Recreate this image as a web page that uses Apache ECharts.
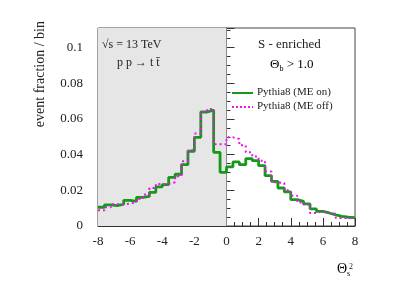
<!DOCTYPE html>
<html><head><meta charset="utf-8">
<script src="https://cdn.jsdelivr.net/npm/echarts@6/dist/echarts.min.js"></script>
<style>html,body{margin:0;padding:0;background:#fff}#c{width:395px;height:284px}</style>
</head><body><div id="c"></div>
<script>
// bin layout: 40 bins of width 0.4 on [-8, 8]
const xMin = -8, xMax = 8, binWidth = 0.4;
const binLow = Array.from({length: 40}, (_, i) => +(xMin + binWidth * i).toFixed(2));
// Pythia8 (ME on)
const meOn = [0.0105,0.0118,0.0114,0.0122,0.0144,0.0138,0.0161,0.0166,0.0189,0.0219,
              0.0232,0.0273,0.0290,0.0344,0.0419,0.0497,0.0639,0.0650,0.0413,0.0301,
              0.0331,0.0359,0.0344,0.0378,0.0366,0.0338,0.0282,0.0250,0.0213,0.0191,
              0.0148,0.0138,0.0124,0.0096,0.0082,0.0073,0.0062,0.0054,0.0049,0.0047];
// Pythia8 (ME off)
const meOff = [0.0088,0.0105,0.0122,0.0122,0.0125,0.0133,0.0152,0.0176,0.0213,0.0236,
               0.0236,0.0245,0.0279,0.0363,0.0424,0.0518,0.0639,0.0656,0.0458,0.0458,
               0.0497,0.0488,0.0452,0.0413,0.0390,0.0366,0.0306,0.0245,0.0241,0.0200,
               0.0170,0.0132,0.0120,0.0073,0.0082,0.0073,0.0068,0.0045,0.0045,0.0040];
const yTicks = [0, 0.02, 0.04, 0.06, 0.08, 0.1];
const xTicks = [-8, -6, -4, -2, 0, 2, 4, 6, 8];
const seriesNames = ['Pythia8 (ME on)', 'Pythia8 (ME off)'];
const GREEN = '#16991a', MAGENTA = '#ee11ee';

function steps(vals) {
  const pts = binLow.map((x, i) => [x, vals[i]]);
  pts.push([xMax, vals[vals.length - 1]]);
  return pts;
}
const FONT = 'Liberation Serif';
const chart = echarts.init(document.getElementById('c'), null, {renderer: 'canvas'});
chart.setOption({
  animation: false,
  backgroundColor: '#fff',
  grid: {left: 98, right: 40, top: 28, bottom: 58, show: true, borderColor: '#444', borderWidth: 1, backgroundColor: 'transparent'},
  xAxis: {
    type: 'value', min: xMin, max: xMax, interval: 2,
    axisLine: {lineStyle: {color: '#333', width: 1}},
    axisTick: {inside: true, length: 8, lineStyle: {color: '#333'}},
    minorTick: {show: true, splitNumber: 4, length: 4, lineStyle: {color: '#333'}},
    splitLine: {show: false},
    axisLabel: {fontFamily: FONT, fontSize: 13, color: '#222', margin: 9,
      formatter: v => xTicks.includes(v) ? String(v) : ''}
  },
  yAxis: {
    type: 'value', min: 0, max: 0.111, interval: 0.02,
    axisLine: {show: true, lineStyle: {color: '#333', width: 1}},
    axisTick: {show: true, inside: true, length: 8, lineStyle: {color: '#333'}},
    minorTick: {show: true, splitNumber: 4, length: 4, lineStyle: {color: '#333'}},
    splitLine: {show: false},
    axisLabel: {fontFamily: FONT, fontSize: 13, color: '#222', margin: 15, showMaxLabel: false,
      formatter: v => { const t = yTicks.find(a => Math.abs(a - v) < 1e-9); return t === undefined ? '' : String(t); }}
  },
  series: [
    {
      type: 'line', name: 'bg', data: [], silent: true, z: 0,
      markArea: {silent: true, itemStyle: {color: '#e6e6e6'}, data: [[{xAxis: xMin}, {xAxis: 0}]]}
    },
    {
      type: 'line', name: seriesNames[1], data: steps(meOff), step: 'end', symbol: 'none', z: 3,
      lineStyle: {color: MAGENTA, width: 2, type: [2, 3]}
    },
    {
      type: 'line', name: seriesNames[0], data: steps(meOn), step: 'end', symbol: 'none', z: 2,
      lineStyle: {color: GREEN, width: 2.8}
    }
  ],
  graphic: [
    {type: 'text', z: 100, left: 102, top: 39, style: {text: '√s = 13 TeV', font: '12px "Liberation Serif"', fill: '#222'}},
    {type: 'text', z: 100, left: 117, top: 57, style: {text: 'p p → t t\u0304', font: '12px "Liberation Serif"', fill: '#222'}},
    {type: 'text', z: 100, left: 258, top: 38, style: {text: 'S - enriched', font: '13px "Liberation Serif"', fill: '#222'}},
    {type: 'text', z: 100, left: 270, top: 58, style: {
      text: '{a|Θ}{s|b}{a| > 1.0}',
      rich: {a: {fontFamily: FONT, fontSize: 13, color: '#222'},
             s: {fontFamily: FONT, fontSize: 8, color: '#222', padding: [8, 0, 0, 0]}}}},
    {type: 'line', z: 100, shape: {x1: 232, y1: 93, x2: 253, y2: 93}, style: {stroke: GREEN, lineWidth: 2}},
    {type: 'text', z: 100, left: 257, top: 87, style: {text: seriesNames[0], font: '11px "Liberation Serif"', fill: '#222'}},
    {type: 'line', z: 100, shape: {x1: 232, y1: 107, x2: 253, y2: 107}, style: {stroke: MAGENTA, lineWidth: 2, lineDash: [2, 2]}},
    {type: 'text', z: 100, left: 257, top: 101, style: {text: seriesNames[1], font: '11px "Liberation Serif"', fill: '#222'}},
    {type: 'text', z: 100, x: 40, y: 21, rotation: Math.PI / 2, style: {
      text: 'event fraction / bin', font: '14px "Liberation Serif"', fill: '#222', align: 'right', verticalAlign: 'middle'}},
    {type: 'text', z: 100, left: 337, top: 262, style: {
      text: '{a|Θ}{s|s}',
      rich: {a: {fontFamily: FONT, fontSize: 14, color: '#222'},
             s: {fontFamily: FONT, fontSize: 8, color: '#222', padding: [9, 0, 0, 0]}}}},
    {type: 'text', z: 100, left: 349, top: 263, style: {text: '2', font: '8px "Liberation Serif"', fill: '#222'}}
  ]
});
</script>
</body></html>
